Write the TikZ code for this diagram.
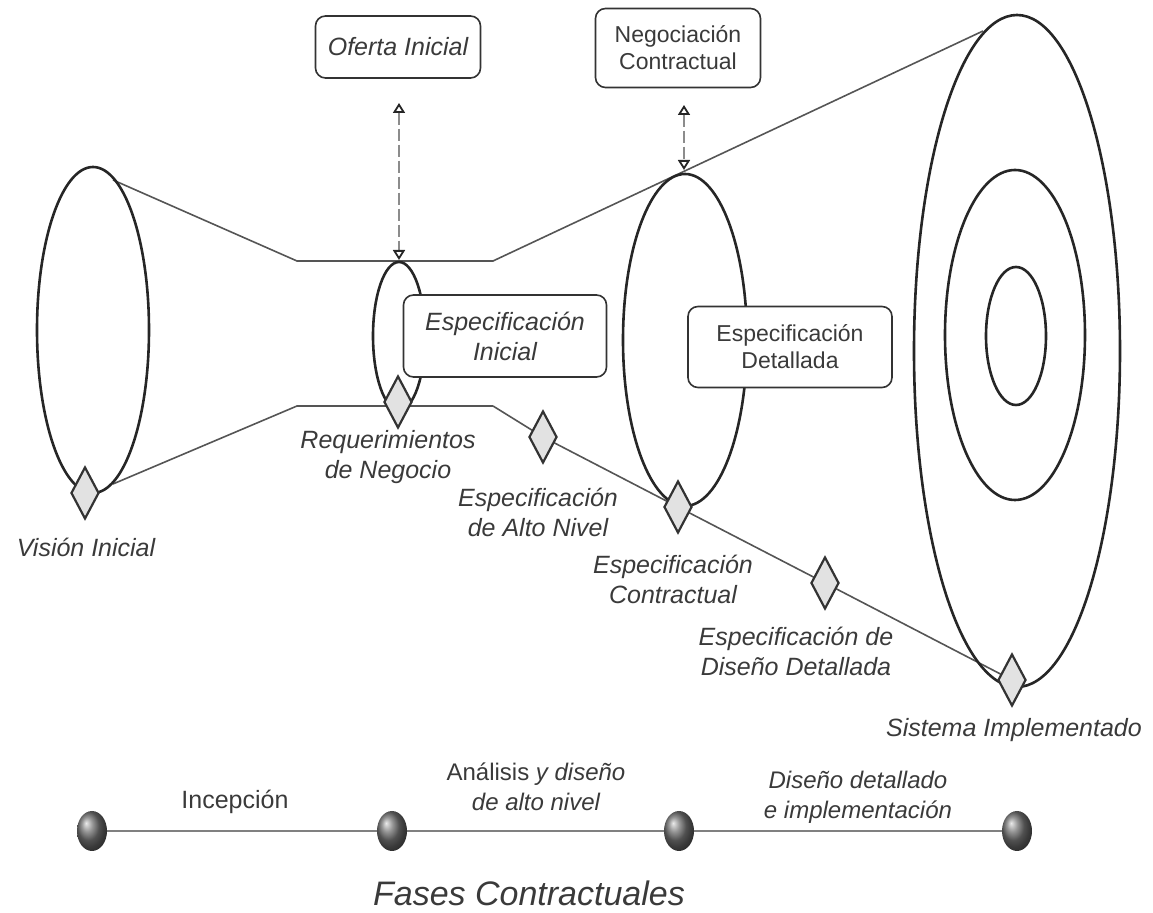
\documentclass[tikz,border=0pt]{standalone}
\usepackage{fontspec}
\setmainfont{Liberation Sans}
\usetikzlibrary{shapes.geometric,arrows.meta,backgrounds}

\definecolor{txtgray}{HTML}{3A3A3A}
\definecolor{linegray}{HTML}{555555}
\definecolor{diafill}{HTML}{E2E2E2}

\tikzset{
  hito/.style={diamond, draw=black!80, line width=1.1pt, fill=diafill,
    minimum width=14pt, minimum height=26pt, inner sep=0pt},
  caja/.style={draw=black!80, line width=0.8pt, fill=white, rounded corners=5pt,
    align=center, text=txtgray, inner sep=2pt},
  etiq/.style={align=center, text=txtgray, font=\itshape\fontsize{12.5}{15}\selectfont},
  cono/.style={draw=black!85, line width=1.3pt},
  guia/.style={draw=linegray, line width=0.8pt},
  nexo/.style={draw=black!45, line width=1.3pt, dash pattern=on 6pt off 2pt,
    {Triangle[open,length=5pt,width=6pt,color=black!85,line width=0.9pt]}-{Triangle[open,length=5pt,width=6pt,color=black!85,line width=0.9pt]}},
  fase/.style={ellipse, shading=ball, ball color=black!55, minimum width=15pt,
    minimum height=20pt, inner sep=0pt},
}

\begin{document}
\begin{tikzpicture}[x=0.5pt, y=-0.5pt]
    \useasboundingbox (0,0) rectangle (1153,913);

    % conos de especificacion
    \draw[cono] (93,330) ellipse [x radius=56, y radius=163];
    \draw[cono] (399,336) ellipse [x radius=26, y radius=74];
    \draw[cono] (685,340) ellipse [x radius=62, y radius=166];
    \draw[cono] (1017,351) ellipse [x radius=103, y radius=336];
    \draw[cono] (1015,335) ellipse [x radius=70, y radius=165];
    \draw[cono] (1016,336) ellipse [x radius=30, y radius=69];

    \coordinate (v-top) at (113,180);
    \coordinate (v-bot) at (113,484);
    \coordinate (n-tl) at (297,261);
    \coordinate (n-tr) at (493,261);
    \coordinate (n-bl) at (297,406);
    \coordinate (n-br) at (493,406);
    \coordinate (s-end) at (983,31);

    % hitos
    \node[hito] (dVis) at (85,493) {};
    \node[hito] (dReq) at (398,402) {};
    \node[hito] (dAlto) at (543,437) {};
    \node[hito] (dContr) at (678,507) {};
    \node[hito] (dDis) at (825,583) {};
    \node[hito] (dSis) at (1012,680) {};

    \node[etiq] (lVis) at (86,547) {Visión Inicial};
    \node[etiq] (lReq) at (388,457) {Requerimientos\\de Negocio};
    \node[etiq] (lAlto) at (538,512) {Especificación\\de Alto Nivel};
    \node[etiq] (lContr) at (673,579) {Especificación\\Contractual};
    \node[etiq] (lDis) at (796,651) {Especificación de\\Diseño Detallada};
    \node[etiq] (lSis) at (1014,730) {Sistema Implementado};

    % cajas
    \node[caja, minimum width=82.5pt, minimum height=31pt,
        font=\itshape\fontsize{12.5}{15}\selectfont] (oferta) at (398,47) {Oferta Inicial};
    \node[caja, minimum width=82.5pt, minimum height=39.5pt,
        font=\fontsize{11.5}{13.5}\selectfont] (negoc) at (678,48) {Negociación\\Contractual};
    \node[caja, minimum width=101.5pt, minimum height=41pt,
        font=\itshape\fontsize{12.5}{15}\selectfont] (espIni) at (505,336) {Especificación\\Inicial};
    \node[caja, minimum width=102pt, minimum height=40.5pt,
        font=\fontsize{11.5}{13.5}\selectfont] (espDet) at (790,347) {Especificación\\Detallada};

    \coordinate (oferta-a) at (399,103);
    \coordinate (oferta-b) at (399,260);
    \coordinate (negoc-a) at (684,105);
    \coordinate (negoc-b) at (684,170);
    \draw[nexo] (oferta-a) -- (oferta-b);
    \draw[nexo] (negoc-a) -- (negoc-b);

    % fases
    \node[fase] (f1) at (92,831) {};
    \node[fase] (f2) at (392,831) {};
    \node[fase] (f3) at (679,831) {};
    \node[fase] (f4) at (1017,831) {};

    \node[etiq, font=\fontsize{12.5}{15}\selectfont] (tInc) at (235,802) {Incepción};
    \node[etiq, font=\itshape\fontsize{12}{15}\selectfont] (tAna) at (536,787) {{\upshape Análisis} y diseño\\de alto nivel};
    \node[etiq, font=\itshape\fontsize{12}{15}\selectfont] (tImp) at (858,797) {Diseño detallado\\e implementación};
    \node[etiq, font=\itshape\fontsize{17}{20}\selectfont] (titulo) at (529,893) {Fases Contractuales};

    \begin{scope}[on background layer]
        \draw[guia] (v-top) -- (n-tl) -- (n-tr) -- (s-end);
        \draw[guia] (v-bot) -- (n-bl) -- (n-br);
        \draw[guia] (n-br) -- (dAlto.center) -- (dContr.center) -- (dDis.center) -- (dSis.center);
        \draw[draw=black!50, line width=1.3pt] (f1) -- (f2) -- (f3) -- (f4);
    \end{scope}
\end{tikzpicture}
\end{document}
